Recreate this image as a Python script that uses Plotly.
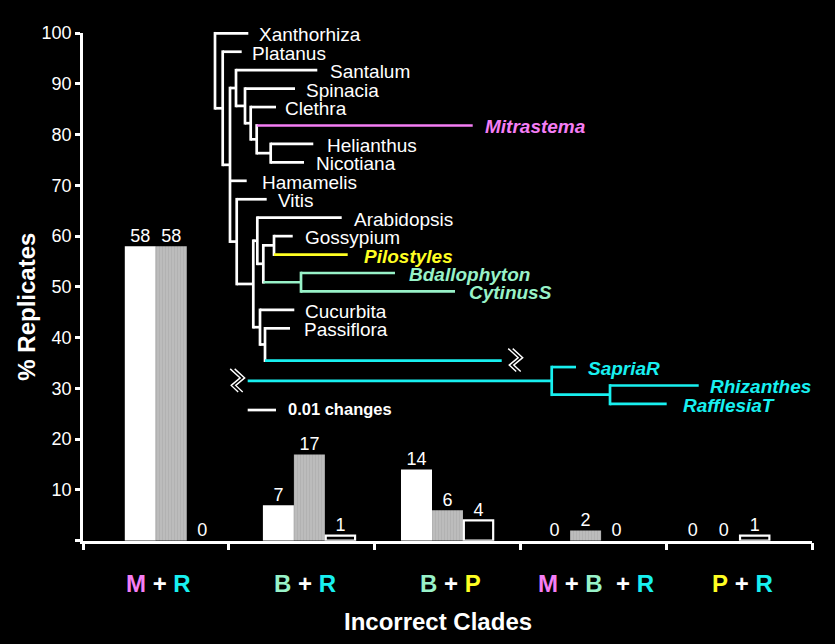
import plotly.graph_objects as go

# ---------------- bar chart data ----------------
clades = ["M + R", "B + R", "B + P", "M + B  + R", "P + R"]
series_white = [58, 7, 14, 0, 0]
series_gray = [58, 17, 6, 2, 0]
series_open = [0, 1, 4, 0, 1]
y_tick_vals = [0, 10, 20, 30, 40, 50, 60, 70, 80, 90, 100]
y_tick_text = ["", "10", "20", "30", "40", "50", "60", "70", "80", "90", "100"]

# ---------------- tree data ----------------
# node names, their parents and cumulative branch length (changes) from the root
tree_nodes = ["A", "Xanthorhiza", "B", "Platanus", "C", "D", "Santalum", "E", "Spinacia",
              "F", "Clethra", "G", "Mitrastema", "H", "Helianthus", "Nicotiana", "Hamamelis",
              "I", "Vitis", "J", "K", "Arabidopsis", "L", "Mn", "Gossypium", "Pilostyles",
              "N", "Bdallophyton", "CytinusS", "O", "Cucurbita", "P", "Passiflora", "RaffStem",
              "Q", "SapriaR", "R", "Rhizanthes", "RafflesiaT"]
tree_parents = [None, "A", "A", "B", "B", "C", "D", "D", "E",
                "E", "F", "F", "G", "G", "H", "H", "C",
                "C", "I", "I", "J", "K", "K", "L", "Mn", "Mn",
                "L", "N", "N", "J", "O", "O", "P", "P",
                None, "Q", "Q", "R", "R"]
tree_depth = [0.0, 0.01177, 0.00272, 0.00943, 0.00530, 0.00742, 0.03615, 0.01060, 0.02827,
              0.01261, 0.02155, 0.01473, 0.09106, 0.01968, 0.03473, 0.03145, 0.01120,
              0.00767, 0.01827, 0.01353, 0.01495, 0.04477, 0.01707, 0.02085, 0.02746, 0.04689,
              0.03039, 0.06360, 0.08481, 0.01590, 0.02802, 0.01767, 0.02650, 0.10131,
              0.11898, 0.12756, 0.13958, 0.17092, 0.15961]
leaf_names = ["Xanthorhiza", "Platanus", "Santalum", "Spinacia", "Clethra", "Mitrastema",
              "Helianthus", "Nicotiana", "Hamamelis", "Vitis", "Arabidopsis", "Gossypium",
              "Pilostyles", "Bdallophyton", "CytinusS", "Cucurbita", "Passiflora", "RaffStem",
              "SapriaR", "Rhizanthes", "RafflesiaT"]
leaf_rows = [0, 1, 2, 3, 4, 5, 6, 7, 8, 9, 10, 11, 12, 13, 14, 15, 16, 17.75, 18.1, 19.1, 20.1]
leaf_label_x = [0.01500, 0.01240, 0.03985, 0.03135, 0.02393, 0.09480, 0.03900, 0.03490,
                0.01605, 0.02160, 0.04832, 0.03100, 0.05190, 0.06770, 0.08890, 0.03100,
                0.03065, None, 0.13120, 0.17430, 0.16470]
parasite_leaves = ["Mitrastema", "Pilostyles", "Bdallophyton", "CytinusS", "SapriaR",
                   "Rhizanthes", "RafflesiaT"]
broken_stem_start = 0.01155      # Rafflesiaceae stem resumes after the break
scale_bar = [0.01155, 0.02155]   # 0.01 changes
scale_bar_row = 20.43

# ---------------- styles ----------------
FONT = "Liberation Sans, Arial, Helvetica, sans-serif"
WHITE = "#ffffff"
MAGENTA = "#f57ef5"
CYAN = "#18f0f0"
MINT = "#98f2c8"
YELLOW = "#ffff22"
letter_colors = {"M": MAGENTA, "R": CYAN, "B": MINT, "P": YELLOW}
node_colors = {"Mitrastema": MAGENTA, "Pilostyles": YELLOW, "N": MINT, "Bdallophyton": MINT,
               "CytinusS": MINT, "RaffStem": CYAN, "Q": CYAN, "SapriaR": CYAN, "R": CYAN,
               "Rhizanthes": CYAN, "RafflesiaT": CYAN}

W, H = 835, 644
PX_PER_CHANGE = 2830.0
ROOT_PX = 215.0
ROW0_PX = 33.3
PX_PER_ROW = 18.44
LW = 2.7

fig = go.Figure()

# ---------------- bars ----------------
x_idx = list(range(len(clades)))
bw = 0.2245
bar_specs = [
    (series_white, -1.5 * bw, dict(color=WHITE, line=dict(width=0)), 0.0),
    (series_gray, -0.5 * bw,
     dict(color="#b8b8b8", line=dict(width=0),
          pattern=dict(shape="|", size=3, solidity=0.3, fgcolor="#a6a6a6",
                       bgcolor="#bcbcbc")), 0.0),
    (series_open, 0.5 * bw,
     dict(color="#000000",
          line=dict(width=[2.2 if v > 0 else 0 for v in series_open], color=WHITE)), 0.006),
]
for vals, off, mk, inset in bar_specs:
    fig.add_trace(go.Bar(x=x_idx, y=vals, width=bw - 2 * inset, offset=off + inset,
                         marker=mk, hoverinfo="skip", showlegend=False))
    # value labels above every bar (including the zero ones)
    fig.add_trace(go.Scatter(x=[i + off + bw / 2 for i in x_idx], y=vals, mode="text",
                             text=[str(v) for v in vals], textposition="top center",
                             cliponaxis=False, hoverinfo="skip", showlegend=False,
                             textfont=dict(color=WHITE, size=18, family=FONT)))

# ---------------- tree ----------------
parent_of = dict(zip(tree_nodes, tree_parents))
depth_of = dict(zip(tree_nodes, tree_depth))
children = {n: [] for n in tree_nodes}
for n, p in zip(tree_nodes, tree_parents):
    if p is not None:
        children[p].append(n)
row_of = dict(zip(leaf_names, leaf_rows))


def get_row(n):
    if n in row_of:
        return row_of[n]
    rs = [get_row(c) for c in children[n]]
    row_of[n] = (min(rs) + max(rs)) / 2.0
    return row_of[n]


for n in tree_nodes:
    get_row(n)

hw = LW / 2.0 / PX_PER_ROW
segs = {}


def add_seg(color, xs, ys):
    s = segs.setdefault(color, ([], []))
    s[0].extend(xs + [None])
    s[1].extend(ys + [None])


for n in tree_nodes:
    col = node_colors.get(n, WHITE)
    p = parent_of[n]
    if p is not None:
        add_seg(col, [depth_of[p], depth_of[n]], [row_of[n], row_of[n]])
    elif n == "Q":
        add_seg(col, [broken_stem_start, depth_of[n]], [row_of[n], row_of[n]])
    if children[n]:
        rs = [row_of[c] for c in children[n]]
        add_seg(col, [depth_of[n], depth_of[n]], [min(rs) - hw, max(rs) + hw])

for col, (xs, ys) in segs.items():
    fig.add_trace(go.Scatter(x=xs, y=ys, mode="lines", xaxis="x3", yaxis="y3",
                             line=dict(color=col, width=LW), hoverinfo="skip",
                             showlegend=False))

# scale bar
fig.add_trace(go.Scatter(x=scale_bar, y=[scale_bar_row, scale_bar_row], mode="lines",
                         xaxis="x3", yaxis="y3", line=dict(color=WHITE, width=LW),
                         hoverinfo="skip", showlegend=False))

# break marks (double zig-zag) at both ends of the broken Rafflesiaceae stem
zig_px = [(0, -12), (10, -3), (1, 4.5), (8, 11)]


def add_break(x0_change, row):
    xs, ys = [], []
    for off in (0, 4.5):
        for dx, dy in zig_px:
            xs.append(x0_change + (dx + off) / PX_PER_CHANGE)
            ys.append(row + dy / PX_PER_ROW)
        xs.append(None)
        ys.append(None)
    fig.add_trace(go.Scatter(x=xs, y=ys, mode="lines", xaxis="x3", yaxis="y3",
                             line=dict(color=WHITE, width=1.4), hoverinfo="skip",
                             showlegend=False))


add_break(depth_of["RaffStem"] + 6.5 / PX_PER_CHANGE, row_of["RaffStem"])
add_break(broken_stem_start - 17.5 / PX_PER_CHANGE, row_of["Q"])

annotations = []
for name, lx in zip(leaf_names, leaf_label_x):
    if lx is None:
        continue
    if name in parasite_leaves:
        txt = "<b><i>%s</i></b>" % name
        col = node_colors[name]
    else:
        txt = name
        col = WHITE
    annotations.append(dict(x=lx, y=row_of[name] + 0.08, xref="x3", yref="y3", text=txt,
                            showarrow=False, xanchor="left", yanchor="middle",
                            font=dict(color=col, size=19, family=FONT)))
annotations.append(dict(x=scale_bar[1] + 10 / PX_PER_CHANGE, y=scale_bar_row - 0.06,
                        xref="x3", yref="y3", text="<b>0.01 changes</b>", showarrow=False,
                        xanchor="left", yanchor="middle",
                        font=dict(color=WHITE, size=16.5, family=FONT)))

# category labels with coloured letters
for i, lab in enumerate(clades):
    parts = []
    for ch in lab:
        if ch in letter_colors:
            parts.append("<span style='color:%s'>%s</span>" % (letter_colors[ch], ch))
        elif ch == " ":
            parts.append("&nbsp;")
        else:
            parts.append(ch)
    annotations.append(dict(x=i + 0.52, y=1 - 583.0 / H, xref="x2", yref="paper",
                            text="<b>%s</b>" % "".join(parts), showarrow=False,
                            xanchor="center", yanchor="middle",
                            font=dict(color=WHITE, size=24, family=FONT)))

annotations.append(dict(x=438.0 / W, y=1 - 621.0 / H, xref="paper", yref="paper",
                        text="<b>Incorrect Clades</b>", showarrow=False,
                        xanchor="center", yanchor="middle",
                        font=dict(color=WHITE, size=24, family=FONT)))
annotations.append(dict(x=27.0 / W, y=1 - 306.7 / H, xref="paper", yref="paper",
                        text="<b>% Replicates</b>", showarrow=False, textangle=-90,
                        xanchor="center", yanchor="middle",
                        font=dict(color=WHITE, size=24, family=FONT)))

x_dom = [83.0 / W, 812.0 / W]
fig.update_layout(
    width=W, height=H,
    margin=dict(l=0, r=0, t=0, b=0, pad=0, autoexpand=False),
    paper_bgcolor="#000000", plot_bgcolor="rgba(0,0,0,0)",
    showlegend=False, barmode="overlay",
    font=dict(family=FONT, color=WHITE),
    xaxis=dict(domain=x_dom, range=[-0.6394, 4.6394], showticklabels=False, ticks="",
               showgrid=False, zeroline=False, showline=False, automargin=False),
    xaxis2=dict(overlaying="x", anchor="y", range=[0, 5], tickvals=[0, 1, 2, 3, 4, 5],
                showticklabels=False, ticks="outside", ticklen=7, tickwidth=2.5,
                tickcolor=WHITE, showline=True, linewidth=2.5, linecolor=WHITE,
                showgrid=False, zeroline=False, automargin=False),
    yaxis=dict(domain=[1 - 540.7 / H, 1 - 33.0 / H], range=[0, 100], tickvals=y_tick_vals,
               ticktext=y_tick_text, ticks="outside", ticklen=5, tickwidth=2.5,
               tickcolor=WHITE, showline=True, linewidth=2.5, linecolor=WHITE,
               showgrid=False, zeroline=False, automargin=False,
               tickfont=dict(size=18, color=WHITE, family=FONT)),
    xaxis3=dict(domain=[0, 1], anchor="y3", range=[-ROOT_PX / PX_PER_CHANGE,
                                                     (W - ROOT_PX) / PX_PER_CHANGE],
                visible=False, automargin=False),
    yaxis3=dict(domain=[0, 1], anchor="x3", range=[(H - ROW0_PX) / PX_PER_ROW,
                                                     -ROW0_PX / PX_PER_ROW],
                visible=False, automargin=False),
    annotations=annotations,
)

fig.write_html(
    "out.html",
    config={"displayModeBar": False},
    post_script="document.body.style.margin='0';document.body.style.background='#000';"
                "document.documentElement.style.background='#000';",
)
